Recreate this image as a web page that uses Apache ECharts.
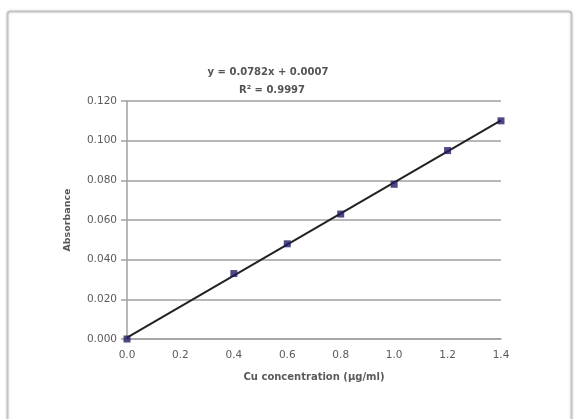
<!DOCTYPE html>
<html>
<head>
<meta charset="utf-8">
<script src="https://cdn.jsdelivr.net/npm/echarts@6/dist/echarts.min.js"></script>
<style>
  html, body { margin: 0; padding: 0; background: #fff; }
  #chart { width: 577px; height: 419px; }
</style>
</head>
<body>
<div id="chart"></div>
<script>
// Cu standard curve readings
const concentrations = [0.0, 0.4, 0.6, 0.8, 1.0, 1.2, 1.4];
const absorbances = [0.000, 0.033, 0.048, 0.063, 0.078, 0.095, 0.110];
// end points of the fitted trendline
const trendPoints = [[0.0, 0.0007], [1.4, 0.1102]];
const equationText = 'y = 0.0782x + 0.0007';
const r2Text = 'R² = 0.9997';

const chart = echarts.init(document.getElementById('chart'), null, { renderer: 'canvas' });

const fontFamily = '"DejaVu Sans", "Liberation Sans", sans-serif';
const labelFont = {
  color: '#5a5a5a',
  fontSize: 10.5,
  fontFamily: fontFamily,
};

const option = {
  backgroundColor: '#fff',
  animation: false,
  graphic: [
    {
      type: 'rect',
      shape: { x: 7.5, y: 11.5, width: 564, height: 420, r: 3 },
      style: { fill: '#fff', stroke: '#c4c4c4', lineWidth: 2, shadowBlur: 3, shadowColor: 'rgba(0,0,0,0.12)' },
      z: -10,
    },
    {
      type: 'text',
      x: 268,
      y: 72,
      style: {
        text: equationText, fill: '#555', align: 'center', verticalAlign: 'middle',
        font: 'bold 10px ' + fontFamily,
      },
    },
    {
      type: 'text',
      x: 272,
      y: 90,
      style: {
        text: r2Text, fill: '#555', align: 'center', verticalAlign: 'middle',
        font: 'bold 10px ' + fontFamily,
      },
    },
  ],
  grid: {
    left: 127,
    right: 76,
    top: 101,
    bottom: 80,
  },
  xAxis: {
    type: 'value',
    min: 0,
    max: 1.4,
    interval: 0.2,
    name: 'Cu concentration (μg/ml)',
    nameLocation: 'middle',
    nameGap: 33,
    nameTextStyle: Object.assign({}, labelFont, { fontWeight: 'bold', fontSize: 10 }),
    axisLine: { show: true, lineStyle: { color: '#a0a0a0', width: 1.5 } },
    axisTick: { show: false },
    axisLabel: Object.assign({}, labelFont, {
      margin: 11,
      formatter: (v) => v.toFixed(1),
    }),
    splitLine: { show: false },
  },
  yAxis: {
    type: 'value',
    min: 0,
    max: 0.12,
    interval: 0.02,
    name: 'Absorbance',
    nameLocation: 'middle',
    nameGap: 54,
    nameTextStyle: Object.assign({}, labelFont, { fontWeight: 'bold', fontSize: 9.5 }),
    axisLine: { show: true, lineStyle: { color: '#a0a0a0', width: 1.5 } },
    axisTick: { show: true, inside: false, length: 6, lineStyle: { color: '#a0a0a0', width: 1.5 } },
    axisLabel: Object.assign({}, labelFont, {
      margin: 10,
      formatter: (v) => v.toFixed(3),
    }),
    splitLine: { show: true, lineStyle: { color: '#a0a0a0', width: 1.5 } },
  },
  series: [
    {
      name: 'Trendline',
      type: 'line',
      data: trendPoints,
      symbol: 'none',
      lineStyle: { color: '#222', width: 2 },
      z: 2,
    },
    {
      name: 'Absorbance',
      type: 'scatter',
      data: concentrations.map((c, i) => [c, absorbances[i]]),
      symbol: 'rect',
      symbolSize: 7,
      itemStyle: { color: '#201c62' },
      z: 3,
    },
  ],
};

chart.setOption(option);
</script>
</body>
</html>
